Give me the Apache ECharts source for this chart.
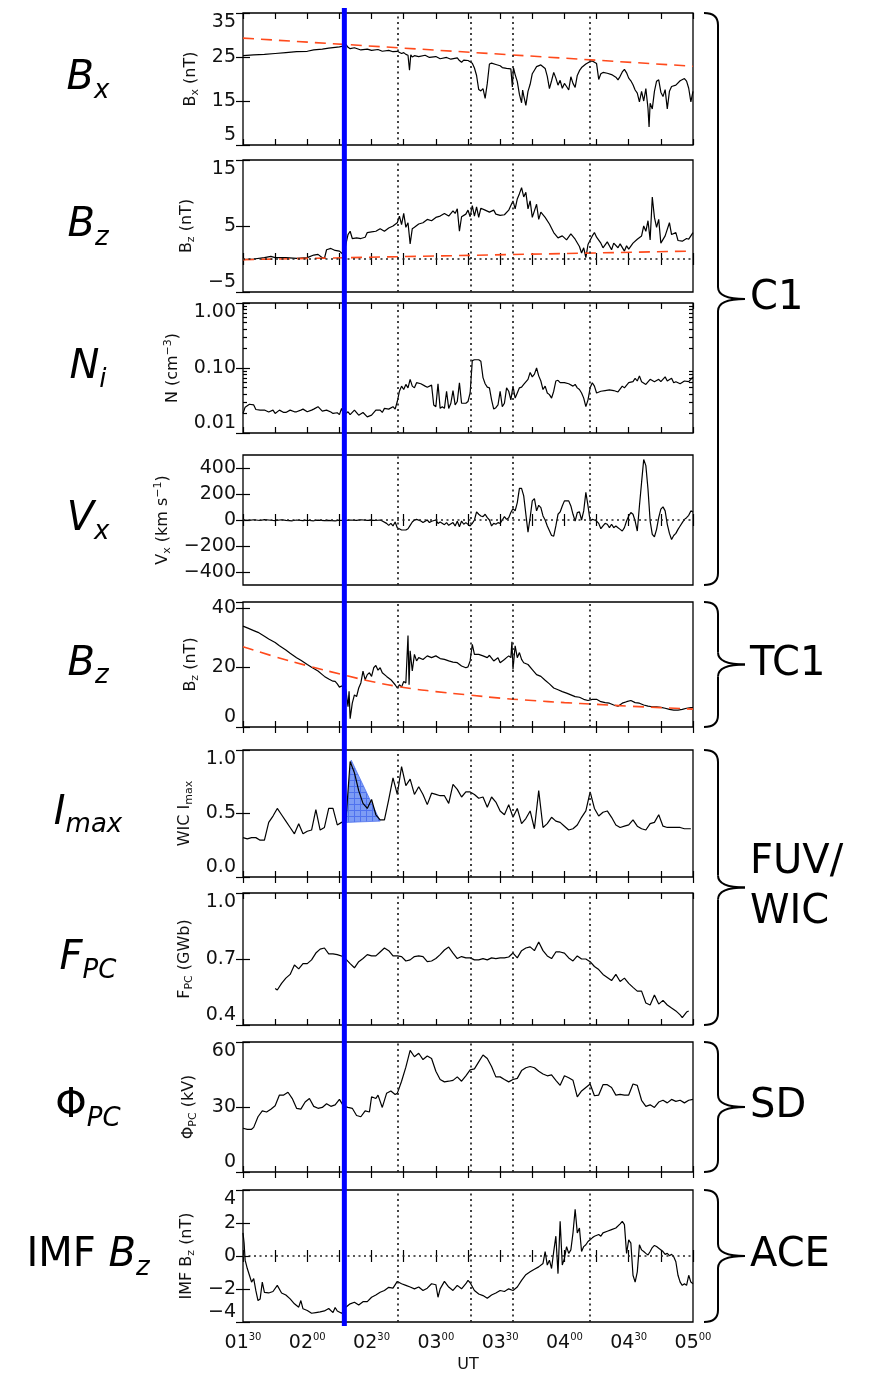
<!DOCTYPE html>
<html><head><meta charset="utf-8">
<script src="https://cdn.jsdelivr.net/npm/echarts@6/dist/echarts.min.js"></script>
<style>html,body{margin:0;padding:0;background:#fff}#c{width:869px;height:1377px}</style>
</head><body><div id="c"></div><script>
// ---------------- DATA ----------------
// time in minutes after 01:30 UT
const hourLabels = ['01','02','02','03','03','04','04','05'];
const minuteLabels = ['30','00','30','00','30','00','30','00'];
const eventTimes = [72, 106.5, 126, 162];
const onsetTime = 47.3;

const bxData = [[0,25.3],[5,25.5],[10,25.6],[15,25.8],[20,26.0],[25,26.2],[30,26.3],[33,26.6],[37,26.8],[40,27.0],[45,27.3],[47,27.5],[48,27.9],[49,27.2],[50,26.9],[52,27.1],[55,26.6],[58,26.8],[60,26.5],[63,26.7],[65,26.3],[68,26.5],[70,26.2],[72,26.3],[74,25.8],[75,26.0],[76,25.6],[77,25.4],[77.7,22.0],[78.3,25.5],[79,25.0],[80,25.3],[82,25.1],[85,25.4],[87,24.9],[90,25.1],[92,24.6],[95,24.9],[97,24.5],[100,24.8],[101,24.2],[102,23.8],[103,24.3],[105,24.2],[106,23.9],[107,23.6],[108,22.5],[109,20.8],[110,17.6],[111,17.3],[112,17.8],[113,15.6],[114,19.0],[115,23.4],[116,23.6],[118,23.3],[120,23.0],[121,22.6],[123,22.4],[125,22.3],[125.7,18.2],[126.2,22.6],[127,21.0],[128,19.4],[129,16.5],[130,14.6],[130.5,17.5],[131,16.2],[132,14.0],[133,17.2],[134,18.8],[135,21.2],[136,22.0],[137,22.8],[139,23.2],[141,22.4],[142,20.6],[143,17.8],[144,19.6],[145,21.5],[146,20.2],[147,18.6],[148,19.7],[149,17.9],[150,19.0],[151,18.3],[152,17.5],[153,20.5],[154,19.0],[155,18.1],[156,20.8],[157,21.9],[158,22.6],[160,23.4],[162,24.0],[163,24.1],[164,23.8],[165,23.5],[166,19.9],[167,21.2],[168,21.5],[170,21.3],[172,21.0],[174,20.4],[175,19.8],[176,20.6],[177,21.6],[178,22.2],[179,21.4],[180,20.2],[181,19.6],[182,18.7],[183,17.5],[184,16.8],[185,14.8],[186,17.2],[187,15.0],[188,17.8],[189,13.3],[189.5,9.1],[190,14.5],[191,13.2],[192,17.2],[193,19.5],[194,19.8],[195,17.0],[196,16.0],[197,17.6],[198,13.2],[199,17.2],[200,18.3],[202,18.6],[204,19.6],[206,20.1],[207,19.5],[208,17.9],[209,14.8],[210,17.2]];
const bxFit = [[0,29.3],[210,22.9]];

const bzData = [[0,-0.1],[5,0],[10,0.2],[13,0.4],[15,0.2],[20,0.2],[25,0.1],[30,0.2],[33,0.6],[35,0.7],[37,0.2],[38,0.1],[39,1.4],[41,1.6],[43,1.3],[45,1.2],[46,0.9],[47,0.6],[48,2.2],[49,3.7],[50,4.2],[51,3.1],[53,3.2],[55,3.1],[57,3.3],[58,4.0],[60,4.1],[62,4.2],[64,4.6],[66,4.2],[68,4.7],[70,5.0],[72,5.5],[73,6.5],[74,5.2],[75,6.9],[76,4.8],[77,5.5],[78,2.3],[79,4.6],[80,4.8],[82,5.3],[84,5.5],[86,6.0],[88,5.8],[90,6.3],[92,6.5],[94,6.9],[96,6.5],[98,7.3],[99,6.9],[100,7.6],[101,4.2],[102,6.4],[104,6.8],[105,7.4],[106,6.4],[107,8.1],[108,6.5],[109,7.9],[110,6.3],[111,7.7],[113,7.4],[115,7.1],[117,7.4],[118,6.8],[120,6.6],[122,6.7],[124,7.4],[125,8.1],[126,8.8],[127,7.6],[128,9.1],[129,9.9],[130,10.8],[131,9.4],[132,10.1],[133,7.6],[134,8.8],[135,6.3],[137,8.3],[138,6.0],[139,7.1],[141,6.3],[143,5.3],[145,4.0],[147,3.2],[149,3.5],[151,2.9],[153,3.8],[155,3.0],[157,1.9],[158,0.9],[159,1.7],[160,0.2],[161,2.2],[163,3.5],[164,4.0],[165,3.3],[167,2.4],[168,1.7],[170,2.6],[172,1.4],[173,2.4],[175,1.7],[176,2.3],[178,1.2],[179,2.0],[180,1.5],[182,2.4],[184,3.0],[186,3.5],[187,5.0],[188,4.2],[189,5.8],[190,2.9],[191,9.4],[192,6.3],[193,4.8],[194,6.0],[195,2.4],[197,3.5],[199,5.5],[200,3.7],[202,4.0],[203,2.8],[205,2.7],[207,3.1],[208,3.0],[209,3.5],[210,4.0]];
const bzFit = [[0,-0.1],[210,1.2]];

const nData = [[0,0.020],[1,0.025],[3,0.0277],[5,0.027],[6,0.023],[8,0.0225],[10,0.0226],[12,0.021],[14,0.0225],[15,0.02],[17,0.0225],[19,0.0207],[20,0.0207],[22,0.0225],[24,0.0212],[25,0.0212],[27,0.0225],[28,0.0233],[30,0.0212],[32,0.0225],[33,0.0233],[35,0.0254],[37,0.0217],[39,0.0225],[41,0.021],[42,0.02],[44,0.0205],[45,0.0192],[46,0.0239],[47,0.0188],[49,0.0212],[50,0.0192],[52,0.0225],[54,0.0188],[56,0.0207],[58,0.0177],[60,0.0188],[62,0.0225],[64,0.0225],[65,0.0207],[66,0.0239],[68,0.0233],[70,0.0254],[71,0.0233],[72,0.0305],[73,0.044],[74,0.0526],[75,0.0466],[76,0.0559],[77,0.0495],[78,0.067],[79,0.0526],[80,0.0495],[81,0.0594],[83,0.0573],[85,0.0526],[86,0.0507],[88,0.0545],[89,0.027],[90,0.0254],[91,0.0573],[92,0.0239],[93,0.0254],[94,0.0239],[95,0.0439],[96,0.0239],[97,0.0287],[98,0.045],[99,0.027],[100,0.0305],[101,0.0594],[102,0.0287],[104,0.0287],[105,0.0305],[106,0.0413],[107,0.13],[108,0.134],[110,0.134],[111,0.127],[112,0.0712],[113,0.0573],[114,0.0507],[115,0.0495],[116,0.0324],[117,0.0233],[118,0.0245],[119,0.027],[120,0.0439],[121,0.0254],[122,0.0287],[123,0.0495],[124,0.0439],[125,0.0324],[126,0.0526],[127,0.0344],[128,0.0413],[129,0.0495],[130,0.0507],[131,0.0559],[133,0.067],[134,0.0855],[135,0.073],[136,0.0804],[137,0.1],[138,0.0757],[139,0.0631],[140,0.0466],[141,0.0526],[142,0.0413],[143,0.0389],[144,0.0344],[145,0.0439],[146,0.0631],[147,0.0647],[148,0.0594],[150,0.0594],[152,0.0573],[154,0.0526],[155,0.0559],[156,0.0495],[157,0.0466],[158,0.0413],[159,0.0344],[160,0.0254],[161,0.0324],[162,0.0495],[163,0.0594],[164,0.0526],[165,0.0413],[167,0.0439],[169,0.045],[171,0.046],[173,0.045],[175,0.0428],[177,0.0526],[178,0.0495],[180,0.0594],[182,0.0616],[183,0.0695],[184,0.0631],[185,0.0757],[186,0.0616],[188,0.0559],[190,0.067],[192,0.0616],[194,0.067],[195,0.0616],[197,0.073],[198,0.0631],[200,0.0695],[201,0.0594],[202,0.0616],[204,0.0573],[206,0.0631],[208,0.0616],[209,0.067],[210,0.073]];

const vxData = [[0,0],[3,-3],[5,2],[8,-4],[10,3],[13,-2],[15,-5],[18,2],[20,-3],[23,-6],[25,0],[28,-5],[30,-2],[33,-6],[35,-1],[38,-5],[40,-3],[43,-6],[45,-2],[48,-4],[50,0],[53,-3],[55,2],[58,-3],[60,-1],[62,-4],[64,0],[65,-8],[67,-26],[68,-41],[69,-26],[70,-46],[71,-15],[72,-59],[74,-77],[76,-77],[77,-67],[78,-41],[79,-15],[80,0],[81,5],[83,-8],[84,-20],[85,-10],[86,0],[87,-20],[88,-10],[90,0],[91,-26],[92,-15],[94,-36],[95,-20],[96,-41],[98,-20],[99,-46],[100,-10],[101,-52],[102,-8],[103,-33],[104,-20],[106,-46],[107,-26],[108,0],[109,62],[110,44],[111,31],[112,26],[113,44],[114,18],[115,0],[116,-46],[117,-26],[118,-33],[119,-20],[120,-26],[121,0],[122,26],[123,5],[124,18],[125,57],[126,88],[127,70],[128,134],[129,243],[130,243],[131,186],[132,44],[133,-93],[134,18],[135,147],[136,165],[137,70],[138,113],[139,95],[140,31],[141,0],[142,-46],[144,-119],[145,-124],[146,-46],[147,44],[148,62],[149,108],[150,147],[152,147],[153,108],[154,44],[155,-8],[156,57],[157,62],[158,0],[159,70],[160,212],[161,108],[162,-8],[163,5],[164,0],[165,-8],[166,-26],[167,-67],[168,-46],[169,-26],[170,-33],[171,-59],[172,-33],[173,-59],[174,-46],[175,-59],[176,-72],[177,-85],[178,-59],[179,-8],[180,31],[181,57],[182,44],[183,-8],[184,-85],[185,108],[186,289],[187,465],[188,418],[189,237],[190,-8],[191,-111],[192,-129],[193,-72],[194,18],[195,83],[196,101],[197,70],[198,-33],[199,-103],[200,-150],[201,-119],[202,-103],[203,-72],[204,-46],[205,-20],[206,5],[207,18],[208,36],[209,70],[210,62]];
const vxTicks = [-400,-200,0,200,400];

const tcData = [[0,33.9],[2,33.3],[5,32.4],[7,31.8],[10,30.5],[12,29.6],[15,28.4],[17,27.3],[20,25.9],[22,24.8],[25,23.3],[27,22.4],[30,21.0],[32,20.1],[35,18.8],[37,17.6],[38,17.0],[40,16.1],[42,15.4],[43,15.3],[44,14.5],[45,13.4],[46,13.8],[47,13.1],[48,12.5],[49,6.8],[49.5,12.0],[50,2.8],[51,8.0],[52,10.8],[53,10.2],[54,13.1],[55,14.8],[56,18.8],[57,15.9],[58,17.6],[59,18.2],[60,17.0],[61,19.9],[62,20.7],[63,19.1],[64,19.9],[65,18.2],[67,17.0],[69,15.9],[71,14.2],[72,13.1],[73,14.2],[74,13.4],[75,15.3],[76,14.8],[77,30.7],[77.5,14.2],[78,25.6],[79,18.8],[80,24.4],[81,22.2],[82,23.3],[84,22.7],[86,23.9],[88,23.3],[90,23.9],[92,23.0],[94,22.7],[96,22.2],[98,21.8],[100,21.6],[102,20.5],[104,19.9],[105,20.2],[106,22.2],[107,27.8],[108,24.4],[110,24.4],[112,23.9],[114,23.3],[115,24.1],[117,22.2],[119,23.3],[120,21.6],[122,22.7],[123,23.3],[124,23.9],[125,23.3],[125.5,28.6],[126,19.3],[127,27.3],[128,23.3],[129,25.0],[130,22.7],[131,21.6],[133,21.0],[135,19.3],[137,17.6],[139,17.0],[141,15.7],[143,14.5],[145,13.1],[147,12.5],[149,11.9],[151,11.4],[153,10.8],[155,10.2],[157,10.0],[159,9.3],[161,8.9],[163,9.3],[165,9.3],[167,8.5],[169,8.2],[171,8.0],[173,7.4],[175,7.0],[177,8.0],[179,8.5],[181,8.9],[183,8.2],[185,8.0],[187,7.4],[189,7.0],[191,6.8],[193,6.8],[195,6.6],[197,6.3],[199,5.9],[201,5.7],[203,5.7],[205,5.9],[207,6.3],[209,6.5],[210,6.5]];
const tcFit = [[0,27],[15,23.6],[30,20.6],[47,17.5],[60,15.3],[75,13.3],[90,11.9],[105,10.8],[120,9.7],[135,8.9],[150,8.2],[165,7.6],[180,7.0],[195,6.5],[210,6.0]];

const wicData = [[0,0.31],[2,0.30],[4,0.31],[6,0.31],[8,0.29],[10,0.29],[12,0.43],[14,0.48],[16,0.54],[18,0.49],[20,0.44],[22,0.39],[24,0.34],[26,0.42],[28,0.34],[30,0.36],[32,0.37],[34,0.53],[36,0.37],[38,0.39],[40,0.54],[42,0.54],[44,0.41],[46,0.43],[48,0.44],[50,0.91],[52,0.82],[54,0.68],[56,0.58],[58,0.54],[60,0.61],[62,0.49],[64,0.45],[66,0.45],[68,0.61],[70,0.78],[72,0.65],[74,0.87],[76,0.72],[78,0.77],[80,0.65],[82,0.71],[84,0.65],[86,0.57],[88,0.66],[90,0.65],[92,0.64],[94,0.64],[96,0.58],[98,0.73],[100,0.69],[102,0.63],[104,0.67],[106,0.67],[108,0.65],[110,0.62],[112,0.63],[114,0.55],[116,0.63],[118,0.59],[120,0.52],[122,0.49],[124,0.57],[126,0.47],[128,0.54],[130,0.42],[132,0.46],[134,0.52],[136,0.38],[138,0.68],[140,0.39],[142,0.42],[144,0.47],[146,0.44],[148,0.43],[150,0.40],[152,0.37],[154,0.38],[156,0.41],[158,0.47],[160,0.52],[162,0.67],[164,0.54],[166,0.48],[168,0.51],[170,0.52],[172,0.47],[174,0.41],[176,0.39],[178,0.40],[180,0.41],[182,0.45],[184,0.40],[186,0.38],[188,0.37],[190,0.42],[192,0.43],[194,0.49],[196,0.40],[198,0.39],[200,0.39],[202,0.39],[204,0.39],[206,0.38],[209,0.38]];
const wicShade = [[48,0.43],[50.5,0.92],[64,0.44]];

const fpcData = [[15,0.566],[16,0.559],[18,0.589],[20,0.613],[22,0.63],[24,0.673],[26,0.655],[28,0.679],[30,0.679],[32,0.696],[34,0.727],[36,0.745],[38,0.75],[40,0.723],[42,0.723],[44,0.72],[47,0.71],[50,0.679],[52,0.66],[54,0.688],[56,0.702],[58,0.72],[60,0.714],[62,0.714],[64,0.732],[66,0.75],[68,0.738],[70,0.714],[72,0.714],[74,0.711],[76,0.691],[78,0.696],[80,0.711],[82,0.714],[84,0.711],[86,0.688],[88,0.691],[90,0.702],[92,0.72],[94,0.741],[96,0.754],[98,0.727],[100,0.702],[102,0.711],[104,0.705],[106,0.705],[108,0.696],[110,0.696],[112,0.702],[114,0.696],[116,0.705],[118,0.702],[120,0.705],[122,0.705],[124,0.709],[126,0.727],[128,0.705],[130,0.738],[132,0.75],[134,0.755],[136,0.738],[138,0.777],[140,0.738],[142,0.714],[144,0.702],[146,0.732],[148,0.732],[150,0.727],[152,0.705],[154,0.691],[156,0.714],[158,0.7],[160,0.7],[162,0.688],[164,0.666],[166,0.652],[168,0.63],[170,0.616],[172,0.602],[174,0.63],[176,0.598],[178,0.613],[180,0.589],[182,0.571],[184,0.554],[186,0.554],[188,0.5],[190,0.491],[192,0.536],[194,0.495],[196,0.512],[198,0.491],[200,0.477],[202,0.464],[204,0.446],[205,0.434],[207,0.459],[208,0.464]];

const phiData = [[0,20.2],[2,19.7],[4,19.7],[5,20.6],[7,25.5],[9,28.2],[11,27.7],[13,29.0],[15,30.6],[17,35.5],[19,35.5],[21,36.8],[23,33.9],[25,29.4],[27,29.0],[29,32.3],[31,33.9],[33,30.3],[35,29.4],[37,29.8],[39,31.5],[41,30.3],[43,31.0],[45,33.5],[47,30.3],[49,29.8],[51,29.4],[53,26.1],[55,25.5],[57,28.2],[59,27.7],[60,34.7],[62,33.9],[63,35.5],[65,29.8],[67,36.3],[69,37.4],[71,35.8],[72,36.3],[74,41.9],[76,48.4],[78,56.1],[80,53.2],[82,54.8],[84,51.9],[86,53.5],[88,52.4],[90,46.5],[92,42.7],[94,41.6],[96,41.9],[98,42.3],[100,43.9],[102,41.9],[104,44.4],[106,47.1],[108,47.6],[110,50.8],[112,54.0],[114,52.4],[116,48.7],[118,43.9],[120,43.9],[122,42.7],[124,41.6],[126,42.7],[128,43.2],[130,46.8],[132,48.1],[134,48.7],[136,48.1],[138,46.5],[140,45.2],[142,44.4],[144,44.8],[146,42.3],[148,40.0],[150,44.4],[152,43.5],[154,42.3],[156,34.7],[158,37.4],[160,39.0],[162,40.6],[164,35.2],[166,35.5],[168,40.3],[170,40.3],[172,39.0],[174,35.5],[176,35.8],[178,35.5],[180,35.5],[182,40.6],[184,40.0],[186,33.1],[188,30.3],[190,31.0],[192,29.8],[194,32.3],[196,33.1],[198,31.9],[200,33.5],[202,32.6],[204,33.1],[206,31.9],[208,33.1],[210,33.5]];

const imfData = [[0,1.4],[0.5,0.8],[1,-0.25],[2,-0.76],[3,-1.17],[4,-1.58],[5,-1.37],[6,-2.1],[7,-2.7],[8,-2.6],[9,-1.58],[10,-2.2],[12,-2.24],[14,-2.15],[16,-1.78],[18,-2.24],[20,-2.36],[22,-2.6],[24,-2.9],[26,-3.1],[27,-2.7],[28,-3.2],[30,-3.3],[32,-3.47],[34,-3.43],[36,-3.39],[38,-3.33],[40,-3.18],[42,-3.43],[43,-3.12],[44,-3.33],[46,-3.47],[47,-3.33],[48,-3.1],[50,-2.9],[52,-2.8],[54,-2.97],[56,-2.77],[58,-2.77],[60,-2.5],[62,-2.36],[64,-2.2],[66,-2.09],[68,-1.9],[70,-1.95],[72,-1.54],[74,-1.68],[76,-1.78],[78,-1.88],[80,-1.99],[82,-1.88],[84,-2.09],[86,-1.95],[88,-1.68],[90,-1.74],[91,-2.5],[92,-1.99],[94,-1.54],[96,-1.88],[98,-2.09],[100,-1.78],[102,-1.99],[104,-1.68],[105,-1.48],[106,-1.62],[108,-2.09],[110,-2.3],[112,-2.4],[114,-2.56],[116,-2.36],[118,-2.24],[120,-2.09],[122,-2.15],[124,-1.99],[126,-2.09],[128,-1.88],[130,-1.48],[132,-1.13],[134,-0.96],[136,-0.8],[138,-0.66],[140,-0.45],[141,0.27],[142,-0.55],[143,-0.25],[144,-0.76],[145,0.27],[146,1.2],[147,-1.07],[148,2.1],[149,-0.55],[150,-0.14],[151,0.57],[152,0.16],[153,0.37],[154,1.4],[155,2.83],[156,1.4],[157,1.7],[158,0.27],[159,0.57],[160,0.68],[161,0.88],[162,0.98],[163,1.1],[164,1.2],[166,1.3],[167,1.2],[168,1.4],[170,1.5],[172,1.6],[174,1.7],[176,1.95],[177,2.1],[178,1.9],[179,0.16],[180,0.98],[181,0.78],[182,-1.17],[183,-1.58],[184,-0.96],[185,0.68],[186,0.37],[187,0.27],[188,0.16],[189,0.06],[190,0.27],[191,0.51],[192,0.64],[193,0.57],[194,0.47],[196,0.27],[197,0.1],[198,0.16],[199,0.02],[200,0.1],[201,-0.04],[202,-0.35],[203,-1.17],[204,-1.58],[205,-1.78],[206,-1.68],[207,-1.78],[208,-1.17],[209,-1.58],[210,-1.68]];

const leftLabels = [
  {txt:'{b|B}{s|x}', key:0}, {txt:'{b|B}{s|z}', key:1}, {txt:'{b|N}{s|i}', key:2},
  {txt:'{b|V}{s|x}', key:3}, {txt:'{b|B}{s|z}', key:4}, {txt:'{b|I}{s|max}', key:5},
  {txt:'{b|F}{s|PC}', key:6}, {txt:'{u|Φ}{s|PC}', key:7}, {txt:'{u|IMF }{b|B}{s|z}', key:8}
];
const instruments = [
  {name:'C1', first:0, last:3}, {name:'TC1', first:4, last:4},
  {name:'FUV/\nWIC', first:5, last:6}, {name:'SD', first:7, last:7}, {name:'ACE', first:8, last:8}
];

// ---------------- LAYOUT ----------------
const FONT = 'DejaVu Sans, sans-serif';
const BIG = 'DejaVu Sans, sans-serif';
const GL = 243, GR = 176;
const panels = [
  {top:13, bot:145, data:bxData, fit:bxFit, min:5, max:35, interval:10, name:'B{s|x} (nT)', gap:42},
  {top:160, bot:292, data:bzData, fit:bzFit, min:-5, max:15, interval:10, name:'B{s|z} (nT)', gap:42, zero:true},
  {top:303, bot:433, data:nData, log:true, min:0.01, max:1, name:'N (cm{p|−3})', gap:55, fmt:v=>v.toFixed(2)},
  {top:455, bot:585, data:vxData, min:-500, max:500, custom:vxTicks, name:'V{s|x} (km s{p|−1})', gap:66, zero:true},
  {top:602, bot:727, data:tcData, fit:tcFit, fitSmooth:true, min:0, max:42, interval:20, name:'B{s|z} (nT)', gap:42},
  {top:750, bot:877, data:wicData, min:0, max:1, interval:0.5, name:'WIC I{s|max}', gap:48, fmt:v=>v.toFixed(1)},
  {top:893, bot:1025, data:fpcData, min:0.4, max:1, interval:0.3, name:'F{s|PC} (GWb)', gap:48, fmt:v=>v.toFixed(1)},
  {top:1042, bot:1172, data:phiData, min:0, max:60, interval:30, name:'Φ{s|PC} (kV)', gap:44},
  {top:1190, bot:1322, data:imfData, min:-4, max:4, interval:2, name:'IMF B{s|z} (nT)', gap:46, zero:true}
];

const chart = echarts.init(document.getElementById('c'), null, {renderer:'canvas'});
const grids = [], xAxes = [], yAxes = [], series = [];
const tickStyle = {color:'#000', width:1.2};
const minus = v => String(v).replace('-', '−');

panels.forEach((p, i) => {
  grids.push({left:GL, right:GR, top:p.top, height:p.bot - p.top, show:true,
    borderColor:'#000', borderWidth:1.3, backgroundColor:'transparent'});
  const last = i === panels.length - 1;
  xAxes.push({type:'value', gridIndex:i, min:0, max:210, interval:15, position:'bottom',
    axisLine:{show:false}, splitLine:{show:false},
    axisTick:{inside:true, length:6, lineStyle:tickStyle},
    axisLabel:{show:last, margin:10, color:'#111', fontFamily:FONT, fontSize:19,
      showMinLabel:true, showMaxLabel:true,
      formatter:v => { if (v % 30 !== 0) return ''; const k = v/30; return '{h|' + hourLabels[k] + '}{m|' + minuteLabels[k] + '}'; },
      rich:{h:{fontSize:19, fontFamily:FONT, color:'#111', lineHeight:22}, m:{fontSize:10, fontFamily:FONT, color:'#111', lineHeight:12, verticalAlign:'top'}}},
    name: last ? 'UT' : '', nameLocation:'middle', nameGap:35,
    nameTextStyle:{fontFamily:FONT, fontSize:16, color:'#111'}});
  xAxes.push({type:'value', gridIndex:i, min:0, max:210, interval:15, position:'top',
    axisLine:{show:false}, splitLine:{show:false}, axisLabel:{show:false},
    axisTick:{inside:true, length:6, lineStyle:tickStyle}});

  const yBase = {gridIndex:i, min:p.min, max:p.max, axisLine:{show:false}, splitLine:{show:false}};
  if (p.log) { yBase.type = 'log'; yBase.logBase = 10; }
  else { yBase.type = 'value'; if (p.interval) yBase.interval = p.interval; }
  const majors = p.log ? [0.01, 0.1, 1] : p.custom;
  const left = Object.assign({}, yBase, {position:'left',
    axisTick:{inside:true, length:7, lineStyle:tickStyle},
    axisLabel:{color:'#111', fontFamily:FONT, fontSize:19, margin:7,
      verticalAlignMinLabel:'bottom', verticalAlignMaxLabel:'top',
      formatter: p.fmt || minus},
    name:p.name, nameLocation:'middle', nameGap:p.gap, nameRotate:90,
    nameTextStyle:{fontFamily:FONT, fontSize:16, color:'#111', lineHeight:20,
      rich:{s:{fontSize:11, fontFamily:FONT, color:'#111', lineHeight:12, verticalAlign:'bottom'},
            p:{fontSize:11, fontFamily:FONT, color:'#111', lineHeight:12, verticalAlign:'top'}}}});
  if (majors) { left.axisTick.customValues = majors; left.axisLabel.customValues = majors; }
  if (p.custom) { left.axisLabel.verticalAlignMinLabel = 'middle'; left.axisLabel.verticalAlignMaxLabel = 'middle'; }
  const right = Object.assign({}, yBase, {position:'right',
    axisTick:{inside:true, length:7, lineStyle:tickStyle}, axisLabel:{show:false}});
  if (majors) { right.axisTick.customValues = majors; }
  yAxes.push(left, right);

  const mlData = eventTimes.map(t => ({xAxis:t}));
  if (p.zero) mlData.push({yAxis:0});
  series.push({type:'line', xAxisIndex:2*i, yAxisIndex:2*i, data:p.data, showSymbol:false,
    lineStyle:{color:'#000', width:1.2}, animation:false, z:3,
    markLine:{silent:true, symbol:'none', animation:false, label:{show:false},
      lineStyle:{type:[2,3.5], color:'#222', width:1.7}, data:mlData}});
  if (p.fit) {
    series.push({type:'line', xAxisIndex:2*i, yAxisIndex:2*i, data:p.fit, showSymbol:false,
      smooth:!!p.fitSmooth, lineStyle:{color:'#ff4a1c', width:1.6, type:[11,7]}, animation:false, z:4});
  }
});

// minor ticks of the log axis
const minorVals = [];
[0.01, 0.1].forEach(d => { for (let k = 2; k <= 9; k++) minorVals.push(+(d*k).toFixed(3)); });
['left','right'].forEach(pos => {
  yAxes.push({type:'log', logBase:10, gridIndex:2, min:0.01, max:1, position:pos,
    axisLine:{show:false}, splitLine:{show:false}, axisLabel:{show:false},
    axisTick:{inside:true, length:4, lineStyle:tickStyle, customValues:minorVals}});
});

// hatched fill pattern for the shaded region
const pat = document.createElement('canvas');
pat.width = 6; pat.height = 6;
const pc = pat.getContext('2d');
pc.fillStyle = '#7d9cf5'; pc.fillRect(0,0,6,6);
pc.fillStyle = '#4f72ee'; pc.fillRect(0,0,6,1); pc.fillRect(0,0,1,6);

series.push({type:'custom', xAxisIndex:10, yAxisIndex:10, data:[0], animation:false, z:2,
  renderItem:(params, api) => ({type:'polygon',
    shape:{points: wicShade.map(d => api.coord(d))},
    style:{fill:{image:pat, repeat:'repeat'}, stroke:'#4f72ee', lineWidth:0.8}})});

chart.setOption({animation:false, backgroundColor:'#fff', grid:grids, xAxis:xAxes, yAxis:yAxes, series:series});

// ---------------- DECORATIONS ----------------
const gfx = [];
const xOn = chart.convertToPixel({xAxisIndex:0}, onsetTime);
const yTop = panels[0].top - 5, yBot = panels[8].bot + 4;
gfx.push({type:'line', z:100, shape:{x1:xOn, y1:yTop, x2:xOn, y2:yBot}, style:{stroke:'#0000ff', lineWidth:5}});

const bigRich = {
  b:{fontSize:40, fontStyle:'italic', fontFamily:BIG, fill:'#000', lineHeight:50},
  u:{fontSize:40, fontFamily:BIG, fill:'#000', lineHeight:50},
  s:{fontSize:26, fontStyle:'italic', fontFamily:BIG, fill:'#000', lineHeight:28, verticalAlign:'bottom'}
};
leftLabels.forEach(l => {
  const p = panels[l.key];
  gfx.push({type:'text', x:88, y:(p.top + p.bot)/2, z:50,
    style:{text:l.txt, rich:bigRich, align:'center', verticalAlign:'middle', fill:'#000'}});
});

const braceStyle = {stroke:'#000', lineWidth:2, fill:null};
instruments.forEach(ins => {
  const y0 = panels[ins.first].top, y1 = panels[ins.last].bot;
  const ym = (y0 + y1)/2, xL = 704, xm = 718, xt = 745, r = 12;
  gfx.push({type:'bezierCurve', z:50, shape:{x1:xL, y1:y0, cpx1:xm, cpy1:y0, x2:xm, y2:y0 + r}, style:braceStyle});
  gfx.push({type:'line', z:50, shape:{x1:xm, y1:y0 + r, x2:xm, y2:ym - r}, style:braceStyle});
  gfx.push({type:'bezierCurve', z:50, shape:{x1:xm, y1:ym - r, cpx1:xm, cpy1:ym, x2:xt, y2:ym}, style:braceStyle});
  gfx.push({type:'bezierCurve', z:50, shape:{x1:xt, y1:ym, cpx1:xm, cpy1:ym, x2:xm, y2:ym + r}, style:braceStyle});
  gfx.push({type:'line', z:50, shape:{x1:xm, y1:ym + r, x2:xm, y2:y1 - r}, style:braceStyle});
  gfx.push({type:'bezierCurve', z:50, shape:{x1:xm, y1:y1 - r, cpx1:xm, cpy1:y1, x2:xL, y2:y1}, style:braceStyle});
  gfx.push({type:'text', x:750, y:ym, z:50,
    style:{text:ins.name, fontSize:40, fontFamily:BIG, fill:'#000', align:'left', verticalAlign:'middle', lineHeight:50}});
});

chart.setOption({graphic:gfx});
</script></body></html>
